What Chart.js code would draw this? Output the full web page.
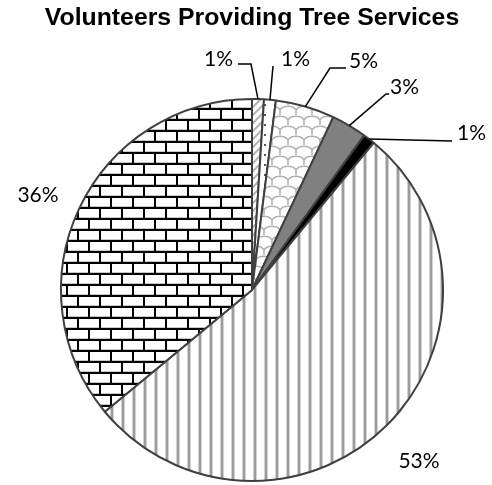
<!DOCTYPE html>
<html>
<head>
<meta charset="utf-8">
<script src="https://cdn.jsdelivr.net/npm/chart.js@4.4.1/dist/chart.umd.min.js"></script>
<style>
  html, body { margin: 0; padding: 0; background: #fff; }
  #wrap { width: 492px; height: 485px; }
</style>
</head>
<body>
<div id="wrap"><canvas id="pie"></canvas></div>
<script>
// Slices clockwise from 12 o'clock
const categories = ['Group A', 'Group B', 'Group C', 'Group D', 'Group E', 'Group F', 'Group G'];
const percents = [1, 1, 5, 3, 1, 53, 36];

// Where each percentage label sits and the bend points of its leader line
const labelSpots = [
    { x: 233, y: 59, align: 'right', leader: [[251, 64], [238, 64]] },
    { x: 281, y: 59, align: 'left', leader: [[273, 66]] },
    { x: 349, y: 61, align: 'left', leader: [[330, 68], [346, 68]] },
    { x: 390, y: 87, align: 'left', leader: [[386, 94], [389, 94]] },
    { x: 457, y: 133, align: 'left', leader: [[452, 141]] },
    { x: 419, y: 461, align: 'center', leader: [] },
    { x: 38, y: 195, align: 'center', leader: [] }
];

function makeTile(w, h, draw) {
    const c = document.createElement('canvas');
    c.width = w;
    c.height = h;
    const g = c.getContext('2d');
    g.fillStyle = '#fff';
    g.fillRect(0, 0, w, h);
    draw(g);
    return c;
}

function buildFills(ctx) {
    const diagonal = makeTile(8, 8, g => {
        g.strokeStyle = '#b4b4b4';
        g.lineWidth = 2;
        g.beginPath();
        g.moveTo(-2, 10); g.lineTo(10, -2);
        g.moveTo(-6, 6); g.lineTo(6, -6);
        g.moveTo(2, 14); g.lineTo(14, 2);
        g.stroke();
    });
    const dotted = makeTile(10, 10, g => {
        g.fillStyle = '#555';
        g.fillRect(4, 4, 2, 2);
    });
    // rounded cells, every other row shifted half a cell
    const scales = makeTile(16, 20, g => {
        g.strokeStyle = '#b0b0b0';
        g.lineWidth = 1.5;
        g.beginPath();
        for (let row = 0; row < 3; row++) {
            const y0 = row * 10;
            const shift = row % 2 ? 8 : 0;
            for (let k = -1; k < 2; k++) {
                const x0 = k * 16 + shift;
                g.moveTo(x0, y0);
                g.bezierCurveTo(x0 + 3, y0 - 5, x0 + 13, y0 - 5, x0 + 16, y0);
                g.moveTo(x0, y0);
                g.lineTo(x0, y0 + 5);
            }
        }
        g.stroke();
    });
    const stripes = makeTile(11, 4, g => {
        g.fillStyle = '#d2d2d2';
        g.fillRect(0, 0, 1, 4);
        g.fillRect(3, 0, 1, 4);
        g.fillStyle = '#9c9c9c';
        g.fillRect(1, 0, 2, 4);
    });
    const bricks = makeTile(22, 22, g => {
        g.fillStyle = '#c8c8c8';
        g.fillRect(0, 8, 22, 1);
        g.fillRect(0, 19, 22, 1);
        g.fillStyle = '#000';
        g.fillRect(0, 9, 22, 2);
        g.fillRect(0, 20, 22, 2);
        g.fillRect(0, 0, 2, 11);
        g.fillRect(11, 11, 2, 11);
    });
    return [
        ctx.createPattern(diagonal, 'repeat'),
        ctx.createPattern(dotted, 'repeat'),
        ctx.createPattern(scales, 'repeat'),
        '#808080',
        '#000000',
        ctx.createPattern(stripes, 'repeat'),
        ctx.createPattern(bricks, 'repeat')
    ];
}

const leaderLabels = {
    id: 'leaderLabels',
    afterDatasetsDraw(chart) {
        const ctx = chart.ctx;
        const meta = chart.getDatasetMeta(0);
        ctx.save();
        ctx.font = '21px Lato';
        ctx.fillStyle = '#000';
        ctx.strokeStyle = '#000';
        ctx.lineWidth = 1.5;
        ctx.textBaseline = 'middle';
        meta.data.forEach((arc, i) => {
            const p = arc.getProps(['x', 'y', 'startAngle', 'endAngle', 'outerRadius'], true);
            const mid = (p.startAngle + p.endAngle) / 2;
            const spot = labelSpots[i];
            if (spot.leader.length) {
                ctx.beginPath();
                ctx.moveTo(p.x + Math.cos(mid) * p.outerRadius, p.y + Math.sin(mid) * p.outerRadius);
                spot.leader.forEach(pt => ctx.lineTo(pt[0], pt[1]));
                ctx.stroke();
            }
            ctx.textAlign = spot.align;
            ctx.fillText(percents[i] + '%', spot.x, spot.y);
        });
        ctx.restore();
    }
};

const canvas = document.getElementById('pie');
const fills = buildFills(canvas.getContext('2d'));

new Chart(canvas, {
    type: 'pie',
    data: {
        labels: categories,
        datasets: [{
            data: percents,
            backgroundColor: fills,
            borderColor: '#404040',
            borderWidth: 2,
            hoverOffset: 0
        }]
    },
    options: {
        responsive: true,
        maintainAspectRatio: false,
        animation: false,
        // wide chart area so the title is not squeezed; the pie is sized by the height
        layout: { padding: { left: 12, right: 0, top: 0, bottom: 3 } },
        plugins: {
            legend: { display: false },
            tooltip: { enabled: false },
            title: {
                display: true,
                text: 'Volunteers Providing Tree Services',
                color: '#000',
                font: { family: "'Liberation Sans', Arial, sans-serif", size: 24.8, weight: 'bold' },
                padding: { top: 3.5, bottom: 64.7 }
            }
        }
    },
    plugins: [leaderLabels]
});
</script>
</body>
</html>
